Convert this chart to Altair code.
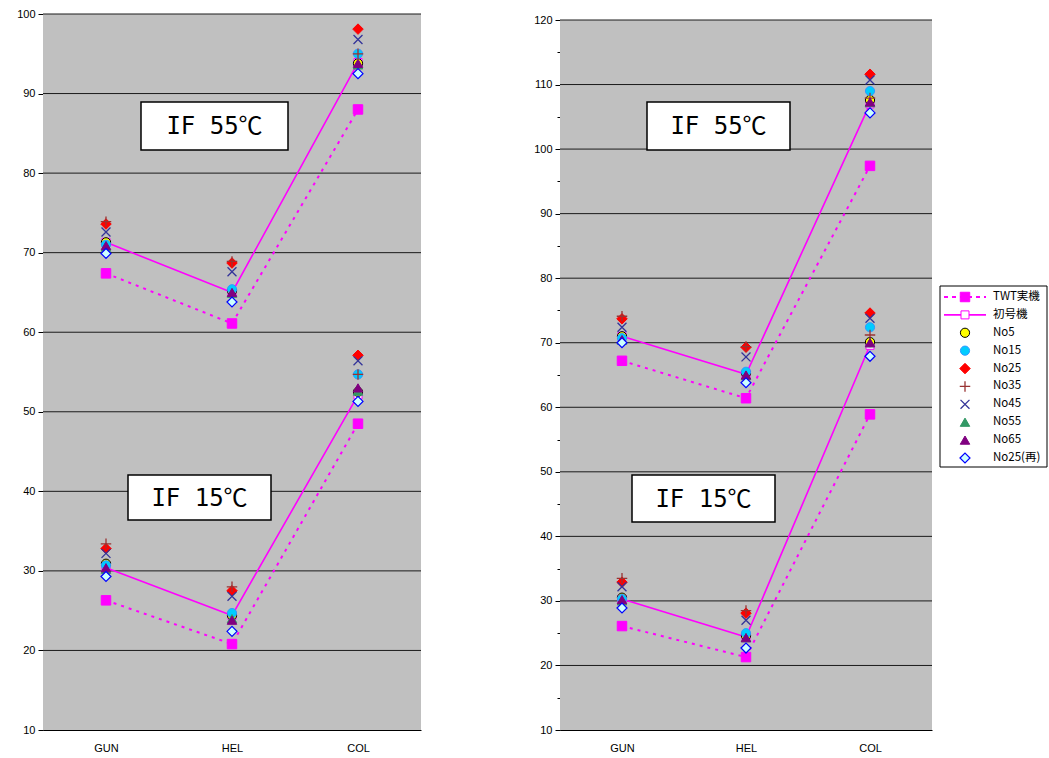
import altair as alt
import pandas as pd

# ---- data -----------------------------------------------------------------
CATS = ["GUN", "HEL", "COL"]
SERIES = ["TWT実機", "初号機", "No5", "No15", "No25", "No35", "No45", "No55", "No65", "No25(再)"]
TEMPS = ["IF 55℃", "IF 15℃"]

# left panel, IF 55℃
LEFT_55 = {
    "TWT実機": [67.4, 61.1, 88.0],
    "初号機": [71.3, 65.0, 93.9],
    "No5": [71.3, 65.2, 93.8],
    "No15": [71.0, 65.4, 95.0],
    "No25": [73.6, 68.7, 98.1],
    "No35": [73.9, 68.9, 95.0],
    "No45": [72.6, 67.6, 96.8],
    "No55": [70.7, 64.9, 93.6],
    "No65": [70.9, 65.0, 93.8],
    "No25(再)": [69.9, 63.8, 92.5],
}
# left panel, IF 15℃
LEFT_15 = {
    "TWT実機": [26.3, 20.8, 48.5],
    "初号機": [30.4, 24.4, 52.1],
    "No5": [30.9, 24.4, 52.5],
    "No15": [30.7, 24.7, 54.7],
    "No25": [32.8, 27.5, 57.1],
    "No35": [33.4, 28.0, 54.7],
    "No45": [32.2, 26.8, 56.4],
    "No55": [30.2, 24.0, 52.6],
    "No65": [30.4, 23.8, 53.0],
    "No25(再)": [29.3, 22.4, 51.3],
}
# right panel, IF 55℃
RIGHT_55 = {
    "TWT実機": [67.2, 61.4, 97.4],
    "初号機": [71.0, 65.1, 107.0],
    "No5": [71.0, 65.3, 107.6],
    "No15": [70.7, 65.5, 109.0],
    "No25": [73.7, 69.3, 111.6],
    "No35": [74.1, 69.4, 107.9],
    "No45": [72.4, 67.8, 110.7],
    "No55": [70.4, 64.9, 107.2],
    "No65": [70.5, 65.0, 107.3],
    "No25(再)": [70.0, 63.8, 105.6],
}
# right panel, IF 15℃
RIGHT_15 = {
    "TWT実機": [26.1, 21.3, 58.9],
    "初号機": [30.3, 24.4, 69.6],
    "No5": [30.5, 24.6, 70.1],
    "No15": [30.3, 25.0, 72.4],
    "No25": [32.9, 28.1, 74.6],
    "No35": [33.5, 28.5, 71.2],
    "No45": [32.2, 27.0, 73.8],
    "No55": [30.0, 24.3, 70.0],
    "No65": [30.2, 24.3, 70.0],
    "No25(再)": [28.9, 22.7, 67.9],
}

LEFT_RANGE = [10, 100]
RIGHT_RANGE = [10, 120]

# ---- styling --------------------------------------------------------------
MAGENTA = "#ff00ff"
PLUS = "M-1,0L1,0M0,-1L0,1"
XMARK = "M-1,-1L1,1M-1,1L1,-1"
STYLE = {
    "TWT実機": dict(shape="square", filled=True, fill=MAGENTA, stroke=MAGENTA, size=90, sw=1),
    "初号機": dict(shape="square", filled=True, fill="#ffffff", stroke=MAGENTA, size=64, sw=1),
    "No5": dict(shape="circle", filled=True, fill="#ffff00", stroke="#000000", size=85, sw=1),
    "No15": dict(shape="circle", filled=True, fill="#00ccff", stroke="#3399ff", size=85, sw=1),
    "No25": dict(shape="diamond", filled=True, fill="#ff0000", stroke="#ff0000", size=110, sw=1),
    "No35": dict(shape=PLUS, filled=False, fill=None, stroke="#993333", size=110, sw=1.3),
    "No45": dict(shape=XMARK, filled=False, fill=None, stroke="#333399", size=80, sw=1.3),
    "No55": dict(shape="triangle-up", filled=True, fill="#339966", stroke="#339966", size=90, sw=1),
    "No65": dict(shape="triangle-up", filled=True, fill="#800080", stroke="#800080", size=90, sw=1),
    "No25(再)": dict(shape="diamond", filled=True, fill="#ccffff", stroke="#0000ff", size=100, sw=1.2),
}
FONT = "Liberation Sans, Arial, Noto Sans CJK JP"
JFONT = "Noto Sans CJK JP"
BOXFONT = "DejaVu Sans Mono, Noto Sans CJK JP"


def long_table(d55, d15):
    rows = []
    for temp, d in ((TEMPS[0], d55), (TEMPS[1], d15)):
        for s in SERIES:
            for i, (c, v) in enumerate(zip(CATS, d[s])):
                rows.append({"temp": temp, "series": s, "cat": c, "idx": i, "v": v})
    return pd.DataFrame(rows)


def point_mark(chart, name, **extra):
    st = STYLE[name]
    kw = dict(shape=st["shape"], size=st["size"], strokeWidth=st["sw"],
              stroke=st["stroke"], opacity=1, filled=st["filled"])
    if st["filled"]:
        kw["fill"] = st["fill"]
        kw["fillOpacity"] = 1
    kw.update(extra)
    return chart.mark_point(**kw)


def panel(d55, d15, yrange, width, height, top, boxes, minor):
    df = long_table(d55, d15)
    lo, hi = yrange
    ticks = list(range(lo, hi + 1, 5)) if minor else list(range(lo, hi + 1, 10))
    yaxis = alt.Axis(
        values=ticks,
        labelExpr="datum.value % 10 == 0 ? datum.label : ''",
        tickSize={"condition": {"test": "datum.value % 10 == 0", "value": 5}, "value": 3},
        grid=False, title=None, domainColor="#000000", tickColor="#000000",
        labelColor="#000000", labelFont=FONT, labelFontSize=11, labelPadding=3,
    )
    yscale = alt.Scale(domain=[lo, hi], range=[height, top], nice=False, zero=False)
    xscale = alt.Scale(domain=CATS, type="point", padding=0.5)
    X = alt.X("cat:N", scale=xscale,
              axis=alt.Axis(title=None, ticks=False, labelAngle=0, labelPadding=12,
                            domainColor="#000000", labelColor="#000000",
                            labelFont=FONT, labelFontSize=11))
    Y = alt.Y("v:Q", scale=yscale, axis=yaxis)

    base = alt.Chart(df)
    bg = alt.Chart(pd.DataFrame({"v": [lo], "v2": [hi]})).mark_rect(
        color="#c0c0c0").encode(y=Y, y2="v2:Q", x=alt.value(0), x2=alt.value(width))
    grid = alt.Chart(pd.DataFrame({"v": list(range(lo + 10, hi + 1, 10))})).mark_rule(
        color="#1a1a1a", strokeWidth=1).encode(y=Y, x=alt.value(0), x2=alt.value(width))

    layers = [bg, grid]
    twt = base.transform_filter(alt.datum.series == "TWT実機")
    layers.append(twt.mark_line(color=MAGENTA, strokeWidth=2, strokeDash=[3, 5]).encode(
        x=X, y=Y, detail="temp:N", order="idx:Q"))
    layers.append(point_mark(twt, "TWT実機").encode(x=X, y=Y))
    first = base.transform_filter(alt.datum.series == "初号機")
    layers.append(first.mark_line(color=MAGENTA, strokeWidth=1.6).encode(
        x=X, y=Y, detail="temp:N", order="idx:Q"))
    layers.append(point_mark(first, "初号機").encode(x=X, y=Y))
    for s in SERIES[2:]:
        layers.append(point_mark(base.transform_filter(alt.datum.series == s), s).encode(x=X, y=Y))

    # annotation boxes
    one = alt.Chart(pd.DataFrame({"k": [0]}))
    for label, (x0, y0, x1, y1) in zip(TEMPS, boxes):
        layers.append(one.mark_rect(fill="#ffffff", stroke="#000000", strokeWidth=1.5).encode(
            x=alt.value(x0), x2=alt.value(x1), y=alt.value(y0), y2=alt.value(y1)))
        layers.append(one.mark_text(text=label, font=BOXFONT, fontSize=24, color="#000000",
                                    align="center", baseline="middle").encode(
            x=alt.value((x0 + x1) / 2), y=alt.value((y0 + y1) / 2 + 1)))

    return alt.layer(*layers).properties(width=width, height=height)


left = panel(LEFT_55, LEFT_15, LEFT_RANGE, 378, 716, 0,
             [(98, 88, 245, 136), (85, 461, 228, 506)], minor=False)
right_main = panel(RIGHT_55, RIGHT_15, RIGHT_RANGE, 372, 716, 6,
                   [(87, 88, 230, 136), (72, 461, 215, 508)], minor=True)

# ---- legend beside the right panel -----------------------------------------
leg_df = pd.DataFrame({"series": SERIES})
LY = alt.Y("series:N", scale=alt.Scale(domain=SERIES, type="point", range=[283, 444], padding=0),
           axis=None)
leg_base = alt.Chart(leg_df)
leg_layers = [
    alt.Chart(pd.DataFrame({"k": [0]})).mark_rect(fill="#ffffff", stroke="#000000", strokeWidth=1).encode(
        x=alt.value(380), x2=alt.value(487), y=alt.value(272), y2=alt.value(453)),
    leg_base.transform_filter(alt.datum.series == "TWT実機").mark_rule(
        color=MAGENTA, strokeWidth=2, strokeDash=[4, 4]).encode(
        x=alt.value(384), x2=alt.value(426), y=LY),
    leg_base.transform_filter(alt.datum.series == "初号機").mark_rule(
        color=MAGENTA, strokeWidth=1.6).encode(
        x=alt.value(384), x2=alt.value(426), y=LY),
]
for s in SERIES:
    leg_layers.append(point_mark(leg_base.transform_filter(alt.datum.series == s), s).encode(
        x=alt.value(405), y=LY))
leg_layers.append(leg_base.mark_text(align="left", baseline="middle", font=JFONT, fontSize=11.5,
                                     color="#000000").encode(
    x=alt.value(433), y=LY, text="series:N"))
legend = alt.layer(*leg_layers)

right = alt.layer(right_main, legend).resolve_scale(y="independent")

chart = alt.hconcat(left, right, spacing=111).properties(
    padding={"left": 16, "top": 8, "right": 0, "bottom": 0},
    background="#ffffff",
).configure_view(stroke=None)

chart.save("out.html", embed_options={"renderer": "svg", "actions": False})
